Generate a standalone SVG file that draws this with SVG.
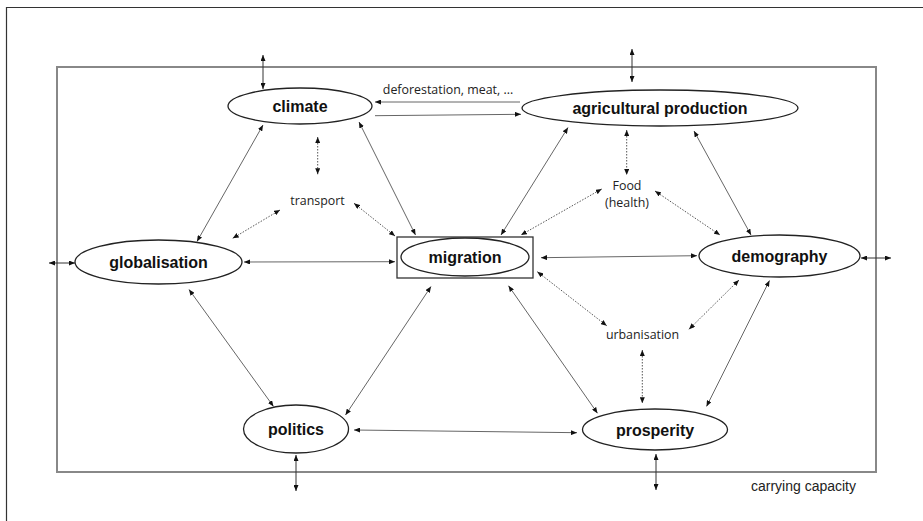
<svg xmlns="http://www.w3.org/2000/svg" width="923" height="521" viewBox="0 0 923 521">
  <defs>
    <marker id="head" viewBox="0 0 6 5" refX="6" refY="2.5" markerWidth="6" markerHeight="5" markerUnits="userSpaceOnUse" orient="auto-start-reverse">
      <path d="M0,0 L6,2.5 L0,5 z" fill="#111"/>
    </marker>
  </defs>
  <style>
    .node { fill: #fff; stroke: #222; stroke-width: 1.3; }
    .label { font-family: "Liberation Sans", Arial, sans-serif; font-weight: bold; font-size: 16px; fill: #111; text-anchor: middle; }
    .note { font-family: "Open Sans", "Liberation Sans", sans-serif; font-size: 12.4px; fill: #222; text-anchor: middle; }
    .link { fill: none; stroke: #666; stroke-width: 1; marker-end: url(#head); }
    .both { marker-start: url(#head); }
    .ext { stroke: #333; }
    .dot { stroke: #555; stroke-dasharray: 1.5 1.5; }
  </style>

  <rect width="923" height="521" fill="#fff"/>

  <!-- page frame (left and top edges) -->
  <path d="M6.5,521 V7.5 H923" fill="none" stroke="#333" stroke-width="1.2"/>

  <!-- carrying capacity boundary -->
  <g id="boundary">
    <rect x="57" y="67" width="819" height="405" fill="none" stroke="#888" stroke-width="2"/>
    <text x="856" y="491" font-family="'Liberation Sans', Arial, sans-serif" font-size="14px" fill="#222" text-anchor="end">carrying capacity</text>
  </g>

  <!-- connectors -->
  <g id="connectors">
    <!-- exchanges across the boundary -->
    <line class="link both ext" x1="263" y1="55" x2="263" y2="89"/>
    <line class="link both ext" x1="632" y1="49" x2="632" y2="82"/>
    <line class="link both ext" x1="49" y1="263" x2="75" y2="263"/>
    <line class="link both ext" x1="861" y1="258" x2="891" y2="258"/>
    <line class="link both ext" x1="296" y1="455" x2="296" y2="491"/>
    <line class="link both ext" x1="656" y1="454" x2="656" y2="490"/>

    <!-- climate / agricultural production -->
    <line class="link" x1="520" y1="102" x2="375" y2="102"/>
    <line class="link" x1="375" y1="115.7" x2="521" y2="114.3"/>

    <!-- solid interactions -->
    <line class="link both" x1="263" y1="125" x2="197" y2="241.5"/>
    <line class="link both" x1="359" y1="122" x2="415.5" y2="235"/>
    <line class="link both" x1="568" y1="127.5" x2="501" y2="235"/>
    <line class="link both" x1="694" y1="131" x2="751" y2="235"/>
    <line class="link both" x1="244" y1="262" x2="395" y2="261.7"/>
    <line class="link both" x1="541" y1="257.7" x2="697" y2="255.7"/>
    <line class="link both" x1="189" y1="289.5" x2="273.5" y2="406.5"/>
    <line class="link both" x1="431" y1="286.5" x2="345.5" y2="415"/>
    <line class="link both" x1="508.5" y1="285.7" x2="597.5" y2="413.3"/>
    <line class="link both" x1="769.5" y1="280.5" x2="706.5" y2="406.5"/>
    <line class="link both" x1="354" y1="430" x2="577" y2="432.7"/>

    <!-- dotted mediators -->
    <line class="link both dot" x1="317.7" y1="137" x2="317.7" y2="174.3"/>
    <line class="link both dot" x1="280" y1="210" x2="232.7" y2="238.3"/>
    <line class="link both dot" x1="354" y1="203.3" x2="395" y2="236"/>
    <line class="link both dot" x1="626.7" y1="130" x2="626.7" y2="175"/>
    <line class="link both dot" x1="601.7" y1="189" x2="521" y2="235"/>
    <line class="link both dot" x1="655" y1="191" x2="720" y2="235"/>
    <line class="link both dot" x1="537.3" y1="271.7" x2="606.7" y2="325.7"/>
    <line class="link both dot" x1="689" y1="329.3" x2="739" y2="280"/>
    <line class="link both dot" x1="642.3" y1="350" x2="642.3" y2="403.3"/>
  </g>

  <!-- nodes -->
  <g id="climate">
    <ellipse class="node" cx="300" cy="106" rx="72" ry="18"/>
    <text class="label" x="300" y="112">climate</text>
  </g>
  <g id="agricultural-production">
    <ellipse class="node" cx="660" cy="108" rx="138" ry="18"/>
    <text class="label" x="660" y="114">agricultural production</text>
  </g>
  <g id="globalisation">
    <ellipse class="node" cx="158.5" cy="262" rx="83.5" ry="22"/>
    <text class="label" x="158.5" y="268">globalisation</text>
  </g>
  <g id="migration">
    <rect x="397" y="237" width="136" height="41" fill="#fff" stroke="#333" stroke-width="1.3"/>
    <ellipse class="node" cx="465" cy="257" rx="64" ry="19"/>
    <text class="label" x="465" y="263">migration</text>
  </g>
  <g id="demography">
    <ellipse class="node" cx="779.5" cy="256" rx="80.5" ry="21"/>
    <text class="label" x="779.5" y="262">demography</text>
  </g>
  <g id="politics">
    <ellipse class="node" cx="296" cy="429" rx="52.5" ry="24"/>
    <text class="label" x="296" y="435">politics</text>
  </g>
  <g id="prosperity">
    <ellipse class="node" cx="655" cy="429.5" rx="72.5" ry="20.5"/>
    <text class="label" x="655" y="435.5">prosperity</text>
  </g>

  <!-- mediating factors -->
  <g id="transport">
    <text class="note" x="317.5" y="205">transport</text>
  </g>
  <g id="food">
    <text class="note" x="627" y="190">Food</text>
    <text class="note" x="627" y="207">(health)</text>
  </g>
  <g id="urbanisation">
    <text class="note" x="642.5" y="339">urbanisation</text>
  </g>
  <g id="deforestation-label">
    <text class="note" x="448" y="94" font-size="11.3px">deforestation, meat, ...</text>
  </g>
</svg>
